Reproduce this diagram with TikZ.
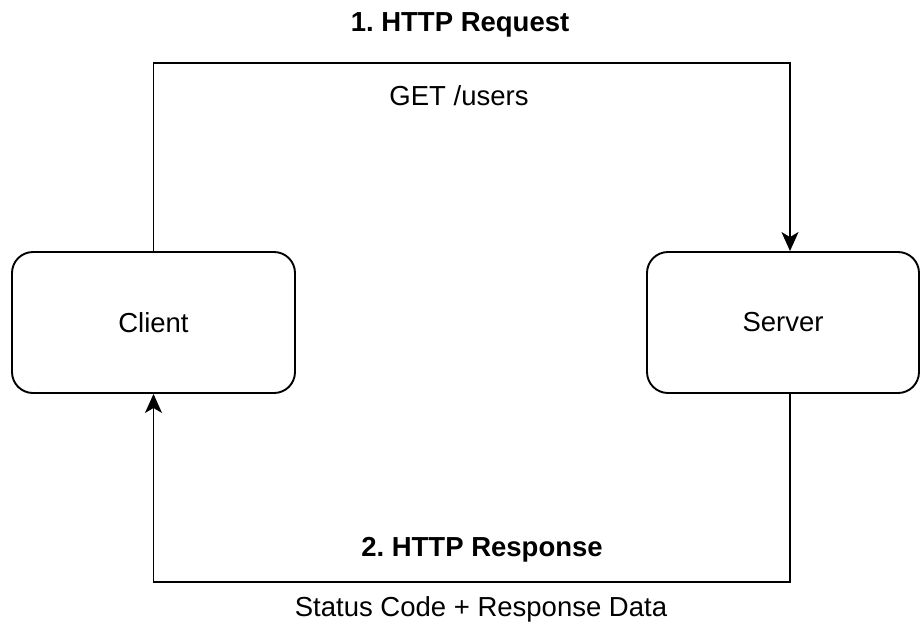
\documentclass[tikz,border=0pt]{standalone}
\usepackage{fontspec}
\setmainfont{Liberation Sans}
\usetikzlibrary{arrows.meta}
\begin{document}
\frenchspacing
\begin{tikzpicture}
  [x=1pt,y=-1pt,every node/.style={font=\fontsize{27.5}{33}\selectfont,inner sep=0pt},
   box/.style={draw,line width=1.9pt,rounded corners=21pt,minimum height=141pt},
   link/.style={line width=1.9pt,-{Stealth[length=19pt,width=17pt,inset=5pt]}}]
\useasboundingbox (0,0) rectangle (920,630);
\node (client)[box,minimum width=283pt] at (153.5,322.5) {Client};
  \node (server)[box,minimum width=272pt] at (783,322.5) {Server};

 \coordinate (reqturn) at (790,63);
  \coordinate (respturn) at (790,582);
 \draw[link] (client.north) |- (reqturn) -- (reqturn |- server.north);
  \draw[link] (respturn |- server.south) -- (respturn) -| (client.south);

\node (reqtitle)[font=\fontsize{27.5}{33}\selectfont\bfseries] at (460,25) {1. HTTP Request};
  \node (reqdata) at (459,96) {GET /users};
  \node (resptitle)[font=\fontsize{27.5}{33}\selectfont\bfseries] at (482,550) {2. HTTP Response};
  \node (respdata) at (481,609) {Status Code + Response Data};
\end{tikzpicture}
\end{document}
